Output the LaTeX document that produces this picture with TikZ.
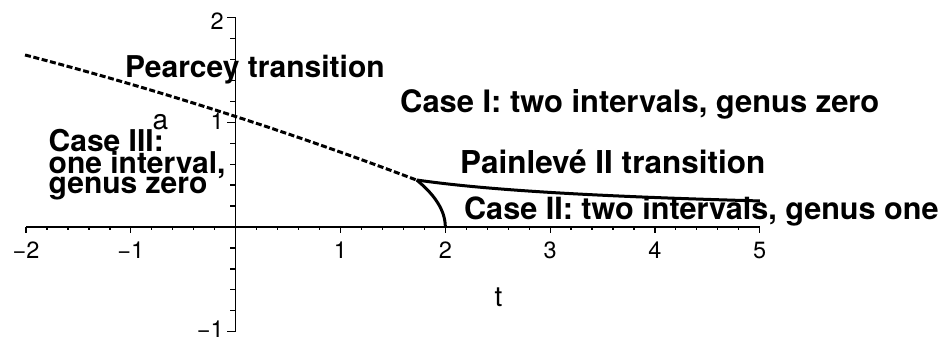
\documentclass[tikz,border=0pt]{standalone}
\usepackage{fontspec}
\setmainfont{TeX Gyre Heros}
\begin{document}
\begin{tikzpicture}[x=104.8pt,y=104.8pt,
  axis/.style={line width=1.3pt},
  tickmark/.style={line width=1.2pt},
  pearcey/.style={line width=3pt, dash pattern=on 6pt off 2.6pt},
  curve/.style={line width=3pt, line join=round},
  region/.style={font=\fontsize{30}{30}\selectfont\bfseries, inner sep=0pt, anchor=base west},
  ticklab/.style={font=\fontsize{23.5}{23.5}\selectfont, inner sep=0pt},
  axlab/.style={font=\fontsize{28}{28}\selectfont, inner sep=0pt, anchor=base},
]
\useasboundingbox (-2.249,-1.088) rectangle (6.730,2.166);
% axes
\draw[axis] (-2,0) -- (5,0);
\draw[axis] (0,-1) -- (0,2);
% x ticks
\foreach \i in {-10,...,25} {
  \draw[tickmark] ({\i/5},0) -- ++(0,-3.5pt);
}
\foreach \i in {-2,-1,1,2,3,4,5} {
  \draw[tickmark] (\i,0) -- ++(0,-6.5pt);
}
% y ticks
\foreach \i in {-5,...,10} {
  \draw[tickmark] (0,{\i/5}) -- ++(-5.5pt,0);
}
\foreach \i in {-1,1,2} {
  \draw[tickmark] (0,\i) -- ++(-9pt,0);
}
% tick labels
\node[ticklab, anchor=north] (xm2) at (-2,-0.143) {−2};
\node[ticklab, anchor=north] (xm1) at (-1,-0.143) {−1};
\node[ticklab, anchor=north] (x1) at (1,-0.143) {1};
\node[ticklab, anchor=north] (x2) at (2,-0.143) {2};
\node[ticklab, anchor=north] (x3) at (3,-0.143) {3};
\node[ticklab, anchor=north] (x4) at (4,-0.143) {4};
\node[ticklab, anchor=north] (x5) at (5,-0.143) {5};
\node[ticklab, anchor=east] (y2) at (-0.112,1.968) {2};
\node[ticklab, anchor=east] (y1) at (-0.112,1.007) {1};
\node[ticklab, anchor=east] (ym1) at (-0.112,-0.975) {−1};
% axis labels
\node[axlab] (alab) at (-0.718,0.926) {a};
\node[axlab] (tlab) at (2.508,-0.763) {t};
% curves
\draw[pearcey] plot[domain=-2.01:1.727, samples=60] (\x,{1.054-0.324*\x-0.0158*\x*\x});
\draw[curve] plot[domain=1.727:5.003, samples=60] (\x,{0.607*pow(\x,-0.555)});
\draw[curve] plot[domain=0:0.448, samples=40] ({2-1.36*\x*\x},\x);
% region labels
\node[region] (pear) at (-1.056,1.422) {Pearcey transition};
\node[region, font=\fontsize{30.9}{30.9}\selectfont\bfseries] (case1) at (1.568,1.088) {Case I: two intervals, genus zero};
\node[region, font=\fontsize{31.5}{31.5}\selectfont\bfseries] (pain) at (2.140,0.506) {Painlevé II transition};
\node[region, font=\fontsize{30.6}{30.6}\selectfont\bfseries] (case2) at (2.178,0.0668) {Case II: two intervals, genus one};
\node[region] (case3a) at (-1.786,0.716) {Case III:};
\node[region] (case3b) at (-1.786,0.512) {one interval,};
\node[region] (case3c) at (-1.786,0.318) {genus zero};
\end{tikzpicture}
\end{document}
